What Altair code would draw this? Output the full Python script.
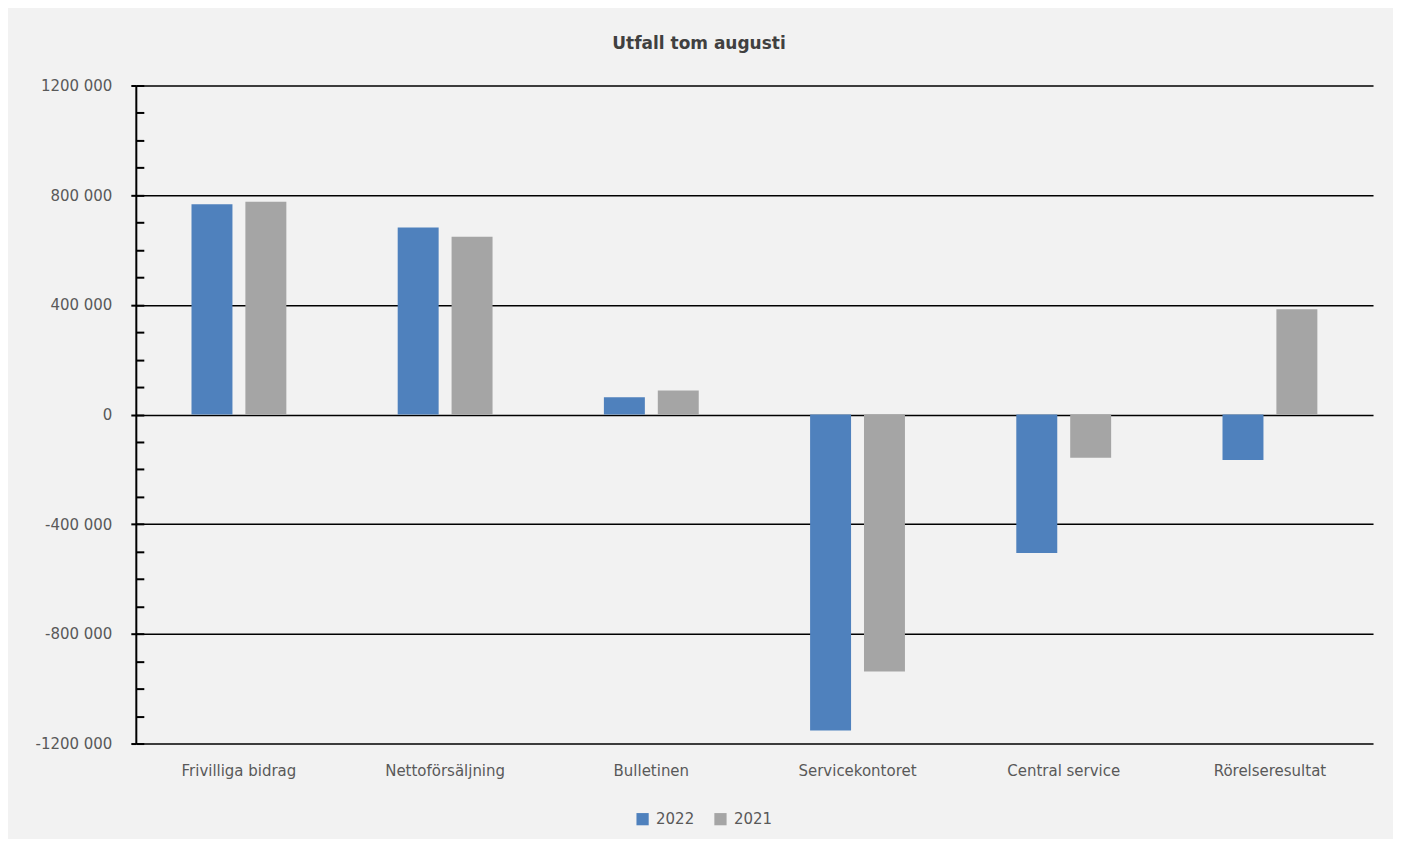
import altair as alt
import pandas as pd

categories = ["Frivilliga bidrag", "Nettoförsäljning", "Bulletinen",
              "Servicekontoret", "Central service", "Rörelseresultat"]
series = ["2022", "2021"]
values_2022 = [767000, 682000, 63000, -1152000, -505000, -166000]
values_2021 = [776000, 648000, 88000, -937000, -158000, 384000]
major_ticks = [-1200000, -800000, -400000, 0, 400000, 800000, 1200000]
minor_ticks = [v * 100000 for v in range(-12, 13)]
colors = ["#4f81bd", "#a5a5a5"]
title_text = "Utfall tom augusti"

rows = []
for c, a, b in zip(categories, values_2022, values_2021):
    rows.append({"kategori": c, "år": "2022", "värde": a})
    rows.append({"kategori": c, "år": "2021", "värde": b})
df = pd.DataFrame(rows)

FONT = "DejaVu Sans"
LABEL_COLOR = "#595959"

yscale = alt.Scale(domain=[-1200000, 1200000], nice=False, zero=False)
xscale = alt.Scale(paddingInner=0.54, paddingOuter=0.27)
xenc = alt.X("kategori:N", sort=categories, title=None, scale=xscale,
             axis=alt.Axis(labelAngle=0, ticks=False, domain=False,
                           labelPadding=20, labelFont=FONT, labelFontSize=15,
                           labelColor=LABEL_COLOR))
xoff = alt.XOffset("år:N", sort=series,
                   scale=alt.Scale(paddingInner=0.24, paddingOuter=0))
color = alt.Color("år:N", sort=series,
                  scale=alt.Scale(domain=series, range=colors),
                  legend=alt.Legend(title=None, orient="none", direction="horizontal",
                                    legendX=500, legendY=727, symbolType="square",
                                    symbolSize=150, symbolStrokeWidth=0,
                                    labelFont=FONT, labelFontSize=15,
                                    labelColor=LABEL_COLOR, labelOffset=6,
                                    columnPadding=18, padding=0))

label_expr = ("datum.value == 0 ? '0' : (datum.value < 0 ? '-' : '') + "
              "floor(abs(datum.value) / 1000) + ' 000'")

bars = alt.Chart(df).mark_bar().encode(
    x=xenc,
    xOffset=xoff,
    y=alt.Y("värde:Q", scale=yscale, title=None,
            axis=alt.Axis(values=major_ticks, labelExpr=label_expr,
                          grid=True, gridColor="#000000", gridWidth=1.5,
                          domain=True, domainColor="#000000", domainWidth=2,
                          ticks=True, tickColor="#000000", tickWidth=2, tickSize=5,
                          labelPadding=19, labelFont=FONT, labelFontSize=15,
                          labelColor=LABEL_COLOR)),
    color=color,
)

minor = alt.Chart(df).mark_bar(opacity=0).encode(
    x=alt.X("kategori:N", sort=categories, title=None, scale=xscale),
    y=alt.Y("värde:Q", scale=yscale, title=None,
            axis=alt.Axis(orient="left", values=minor_ticks, labels=False,
                          grid=False, domain=False, ticks=True,
                          tickColor="#000000", tickWidth=2, tickSize=8,
                          offset=-8)),
)

title = alt.Chart(pd.DataFrame({"t": [title_text]})).mark_text(
    font=FONT, fontSize=17, fontWeight="bold", color="#404040",
    align="center", baseline="middle",
).encode(text="t:N", x=alt.value(564), y=alt.value(-42))

chart = alt.layer(bars, minor, title).resolve_axis(y="independent").properties(
    width=1239,
    height=659,
    autosize=alt.AutoSizeParams(type="none"),
    padding={"left": 128, "top": 77, "right": 20, "bottom": 95},
).configure(background="#f2f2f2").configure_view(stroke=None)

chart.save("out.html", embed_options={"renderer": "svg", "actions": False})
